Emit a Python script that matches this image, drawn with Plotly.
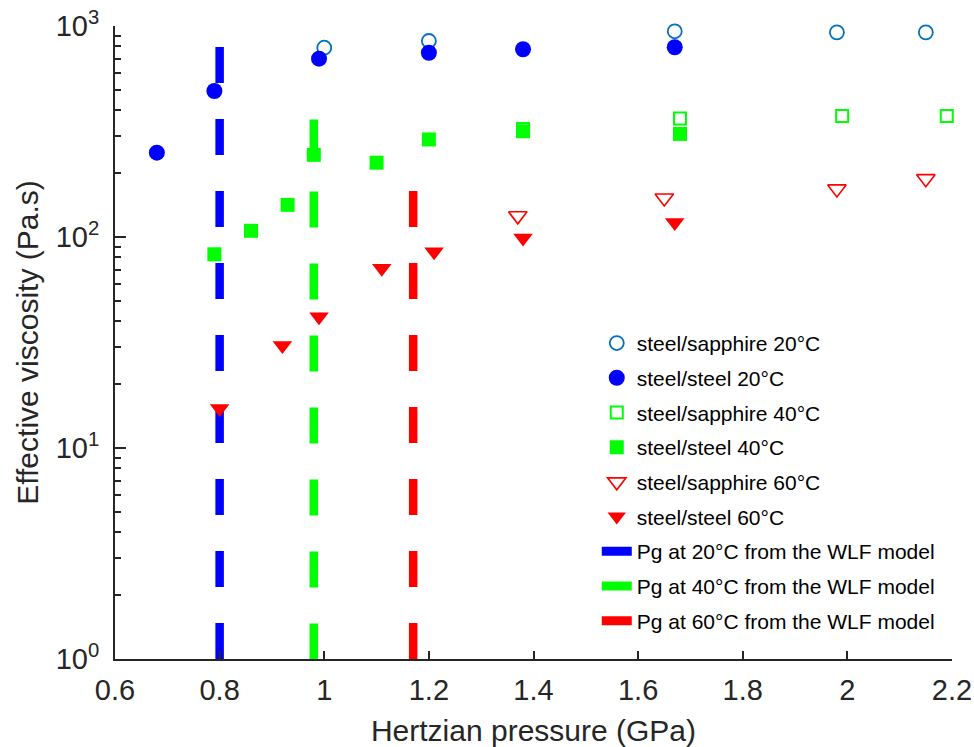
import plotly.graph_objects as go

# ---- data ----
ss20_sapph_x = [1.00, 1.20, 1.67, 1.98, 2.15]
ss20_sapph_y = [789, 849, 944, 933, 933]

ss20_steel_x = [0.68, 0.79, 0.99, 1.20, 1.38, 1.67]
ss20_steel_y = [251, 492, 700, 747, 776, 793]

ss40_sapph_x = [1.38, 1.68, 1.99, 2.19]
ss40_sapph_y = [325, 364, 374, 374]

ss40_steel_x = [0.79, 0.86, 0.93, 0.98, 1.10, 1.20, 1.38, 1.68]
ss40_steel_y = [82.8, 107, 142, 245, 225, 290, 317, 308]

ss60_sapph_x = [1.37, 1.65, 1.98, 2.15]
ss60_sapph_y = [126, 153, 169, 189]

ss60_steel_x = [0.80, 0.92, 0.99, 1.11, 1.21, 1.38, 1.67]
ss60_steel_y = [15.4, 30.6, 41.9, 71.1, 85.1, 98.9, 117]

pg_x = [0.80, 0.98, 1.17]          # glass-transition pressure (GPa)
pg_top = [795, 360, 165]           # upper end of each Pg line
pg_bottom = 1
pg_names = ["Pg at 20°C from the WLF model",
            "Pg at 40°C from the WLF model",
            "Pg at 60°C from the WLF model"]
pg_colors = ["#0000FF", "#00FF00", "#FF0000"]

y_tickvals = [1, 10, 100, 1000]
y_ticktext = ["10<sup>0</sup>", "10<sup>1</sup>", "10<sup>2</sup>", "10<sup>3</sup>"]
x_tickvals = [0.6, 0.8, 1.0, 1.2, 1.4, 1.6, 1.8, 2.0, 2.2]
x_ticktext = ["0.6", "0.8", "1", "1.2", "1.4", "1.6", "1.8", "2", "2.2"]

FONT = "Liberation Sans, Arial, Helvetica, sans-serif"
AX = "#262626"

fig = go.Figure()

# Pg dashed lines (not in legend)
for x, top, c in zip(pg_x, pg_top, pg_colors):
    fig.add_trace(go.Scatter(x=[x, x], y=[top, pg_bottom], mode="lines",
                             line=dict(color=c, width=8.5, dash="36px,36px"),
                             showlegend=False, hoverinfo="skip"))

markers = [
    ("steel/sapphire 20°C", ss20_sapph_x, ss20_sapph_y,
     dict(symbol="circle-open", size=14, color="#0072BD", line=dict(width=1.8, color="#0072BD"))),
    ("steel/steel 20°C", ss20_steel_x, ss20_steel_y,
     dict(symbol="circle", size=16, color="#0000FF", line=dict(width=0))),
    ("steel/sapphire 40°C", ss40_sapph_x, ss40_sapph_y,
     dict(symbol="square-open", size=12, color="#00FF00", line=dict(width=2, color="#00FF00"))),
    ("steel/steel 40°C", ss40_steel_x, ss40_steel_y,
     dict(symbol="square", size=14, color="#00FF00", line=dict(width=0))),
    ("steel/sapphire 60°C", ss60_sapph_x, ss60_sapph_y,
     dict(symbol="triangle-down-open", size=16, color="#FF0000", line=dict(width=1.6, color="#FF0000"))),
    ("steel/steel 60°C", ss60_steel_x, ss60_steel_y,
     dict(symbol="triangle-down", size=17, color="#FF0000", line=dict(width=0))),
]
for i, (name, xs, ys, mk) in enumerate(markers):
    fig.add_trace(go.Scatter(x=xs, y=ys, mode="markers", name=name, marker=mk,
                             cliponaxis=False, legendgroup="g%d" % i))

# legend entries for the Pg lines (solid, as in the reference legend)
for j, (name, c) in enumerate(zip(pg_names, pg_colors)):
    fig.add_trace(go.Scatter(x=[None], y=[None], mode="lines", name=name,
                             line=dict(color=c, width=9), legendgroup="p%d" % j))

fig.update_layout(
    width=974, height=747,
    margin=dict(l=115, r=22, t=26, b=88, autoexpand=False),
    paper_bgcolor="white", plot_bgcolor="white",
    font=dict(family=FONT, color=AX),
    showlegend=True,
    legend=dict(x=0.5756, y=0.531, xanchor="left", yanchor="top",
                bgcolor="rgba(0,0,0,0)", borderwidth=0,
                font=dict(family=FONT, size=21, color="#000000"),
                traceorder="grouped", tracegroupgap=4.4),
    xaxis=dict(range=[0.6, 2.2], tickvals=x_tickvals, ticktext=x_ticktext, automargin=False,
               ticks="inside", ticklen=8, tickwidth=2, tickcolor=AX,
               showline=True, linecolor=AX, linewidth=2, showgrid=False, zeroline=False,
               tickfont=dict(size=29, color=AX), ticklabelstandoff=4,
               title=dict(text="Hertzian pressure (GPa)", font=dict(size=30, color=AX), standoff=16)),
    yaxis=dict(type="log", range=[0, 3], tickvals=y_tickvals, ticktext=y_ticktext, automargin=False,
               ticks="inside", ticklen=11, tickwidth=2, tickcolor=AX,
               minor=dict(ticks="inside", ticklen=6, tickwidth=2, tickcolor=AX, dtick="D1"),
               showline=True, linecolor=AX, linewidth=2, showgrid=False, zeroline=False,
               tickfont=dict(size=29, color=AX), ticklabelstandoff=8,
               title=dict(text="Effective viscosity (Pa.s)", font=dict(size=30, color=AX), standoff=8)),
)

fig.write_html("out.html", config={"displayModeBar": False},
               post_script="document.body.style.margin='0';document.body.style.overflow='hidden';")
